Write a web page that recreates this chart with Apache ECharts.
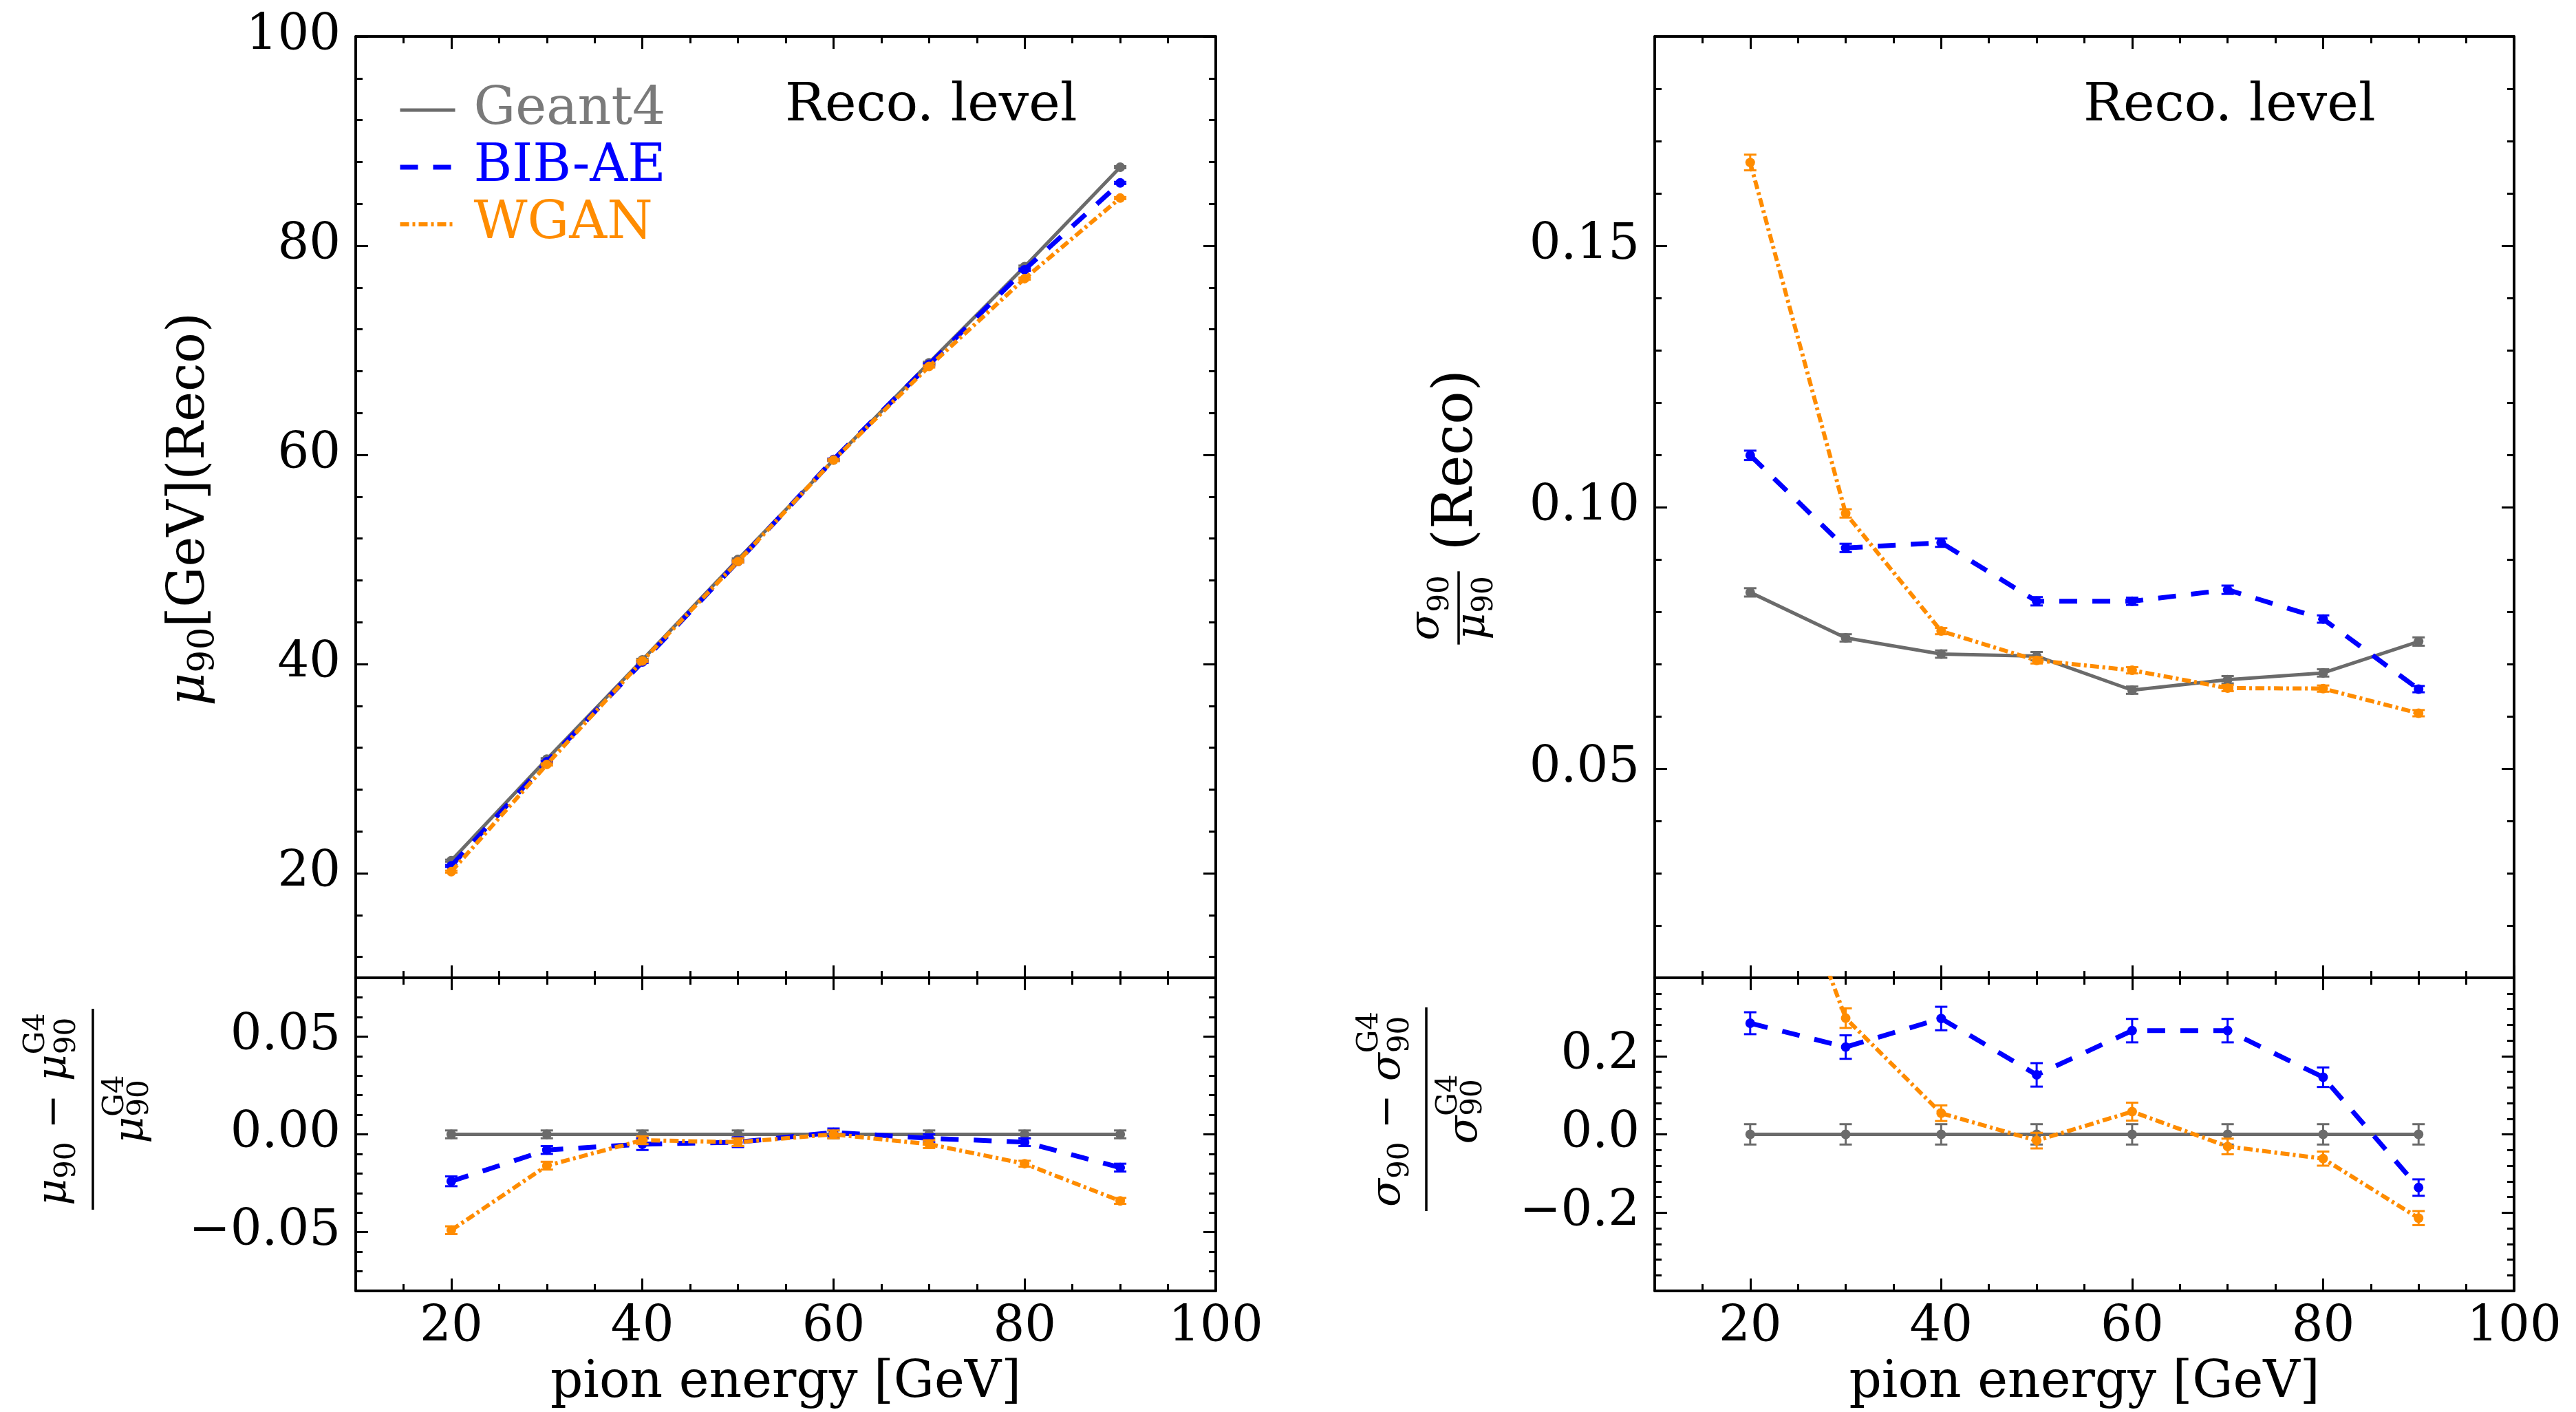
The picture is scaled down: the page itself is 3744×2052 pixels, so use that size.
<!DOCTYPE html>
<html><head><meta charset="utf-8">
<script src="https://cdn.jsdelivr.net/npm/echarts@6/dist/echarts.min.js"></script>
<style>html,body{margin:0;padding:0;background:#fff}#c{width:3744px;height:2052px}</style>
</head><body><div id="c"></div>
<script>
// ---------------- data ----------------
const energy = [20, 30, 40, 50, 60, 70, 80, 90];

// mu90 (Reco) [GeV]
const muG4   = [21.2, 30.9, 40.4, 50.0, 59.5, 68.8, 78.0, 87.5];
const muBIB  = [20.7, 30.65, 40.2, 49.8, 59.55, 68.65, 77.7, 86.0];
const muWGAN = [20.15, 30.4, 40.3, 49.8, 59.5, 68.45, 76.85, 84.55];
const muErrG4   = [0.1, 0.1, 0.1, 0.1, 0.1, 0.1, 0.1, 0.1];
const muErrBIB  = [0.1, 0.1, 0.1, 0.1, 0.1, 0.1, 0.1, 0.1];
const muErrWGAN = [0.1, 0.1, 0.1, 0.1, 0.1, 0.1, 0.1, 0.1];

// (mu90 - mu90_G4) / mu90_G4
const dMuG4   = [0, 0, 0, 0, 0, 0, 0, 0];
const dMuBIB  = [-0.024, -0.008, -0.005, -0.004, 0.001, -0.002, -0.004, -0.017];
const dMuWGAN = [-0.049, -0.016, -0.003, -0.004, 0.0, -0.005, -0.015, -0.034];
const dMuErrG4   = [0.002, 0.002, 0.002, 0.002, 0.002, 0.002, 0.002, 0.002];
const dMuErrBIB  = [0.0025, 0.002, 0.003, 0.0025, 0.002, 0.002, 0.002, 0.002];
const dMuErrWGAN = [0.002, 0.002, 0.002, 0.002, 0.002, 0.002, 0.0015, 0.0015];

// sigma90 / mu90 (Reco)
const resG4   = [0.0837, 0.0750, 0.0719, 0.0715, 0.0650, 0.0670, 0.0683, 0.0743];
const resBIB  = [0.1099, 0.0922, 0.0932, 0.0820, 0.0820, 0.0842, 0.0786, 0.0652];
const resWGAN = [0.1659, 0.0988, 0.0763, 0.0707, 0.0688, 0.0654, 0.0653, 0.0606];
const resErrG4   = [0.0008, 0.0007, 0.0007, 0.0008, 0.0007, 0.0007, 0.0007, 0.0008];
const resErrBIB  = [0.0009, 0.0008, 0.0008, 0.0008, 0.0007, 0.0008, 0.0007, 0.0006];
const resErrWGAN = [0.0015, 0.0008, 0.0006, 0.0006, 0.0006, 0.0006, 0.0006, 0.0006];

// (sigma90 - sigma90_G4) / sigma90_G4
const dResG4   = [0, 0, 0, 0, 0, 0, 0, 0];
const dResBIB  = [0.284, 0.223, 0.296, 0.152, 0.265, 0.265, 0.146, -0.136];
const dResWGAN = [0.95, 0.297, 0.054, -0.016, 0.058, -0.031, -0.062, -0.214];
const dResErrG4   = [0.026, 0.026, 0.026, 0.026, 0.026, 0.026, 0.026, 0.026];
const dResErrBIB  = [0.028, 0.03, 0.03, 0.03, 0.03, 0.03, 0.025, 0.021];
const dResErrWGAN = [0.03, 0.025, 0.02, 0.02, 0.023, 0.02, 0.018, 0.018];

// tick values
const xMajor = [20, 40, 60, 80, 100];
const xMinor = [15, 20, 25, 30, 35, 40, 45, 50, 55, 60, 65, 70, 75, 80, 85, 90, 95];
const muMajor = [20, 40, 60, 80, 100];
const muMinor = [12, 16, 20, 24, 28, 32, 36, 40, 44, 48, 52, 56, 60, 64, 68, 72, 76, 80, 84, 88, 92, 96];
const dMuMajor = [-0.05, 0, 0.05];
const dMuMinor = [-0.07, -0.06, -0.05, -0.04, -0.03, -0.02, -0.01, 0, 0.01, 0.02, 0.03, 0.04, 0.05, 0.06, 0.07];
const resMajor = [0.05, 0.10, 0.15];
const resMinor = [0.02, 0.03, 0.04, 0.05, 0.06, 0.07, 0.08, 0.09, 0.10, 0.11, 0.12, 0.13, 0.14, 0.15, 0.16, 0.17, 0.18];
const dResMajor = [-0.2, 0, 0.2];
const dResMinor = [-0.36, -0.32, -0.28, -0.24, -0.2, -0.16, -0.12, -0.08, -0.04, 0, 0.04, 0.08, 0.12, 0.16, 0.2, 0.24, 0.28, 0.32, 0.36];

const seriesNames = ['Geant4', 'BIB-AE', 'WGAN'];
const colors = ['#6b6b6b', '#0000ff', '#ff8c00'];

// ---------------- layout helpers ----------------
const FONT = 'DejaVu Serif';
const MAJ = 18, MIN = 10;
const grids = [], xAxes = [], yAxes = [], series = [];

function fmtNum(d) {
  return function (v) {
    const s = Math.abs(v).toFixed(d);
    return (v < -1e-9 ? '\u2212' : '') + s;
  };
}

function mkAxis(gi, pos, range, ticks, len, label, isX, name) {
  const a = {
    type: 'value', gridIndex: gi, position: pos, min: range[0], max: range[1],
    axisLine: { show: true, onZero: false, lineStyle: { color: '#000', width: 3.5 } },
    axisTick: { show: true, inside: true, length: len, customValues: ticks, lineStyle: { color: '#000', width: 3 } },
    axisLabel: label ? { show: true, customValues: ticks, formatter: label, fontFamily: FONT, fontSize: 72, color: '#000', margin: isX ? 18 : 22 } : { show: false },
    splitLine: { show: false }, minorTick: { show: false }, minorSplitLine: { show: false }
  };
  if (name) {
    a.name = name; a.nameLocation = 'middle'; a.nameGap = 98;
    a.nameTextStyle = { fontFamily: FONT, fontSize: 74, color: '#000' };
  }
  return a;
}

function panel(rect, xr, yr, xMaj, xMin, yMaj, yMin, xFmt, yFmt, xName) {
  const gA = grids.length; grids.push(Object.assign({}, rect));
  const gB = grids.length; grids.push(Object.assign({}, rect));
  const xi = xAxes.length;
  xAxes.push(mkAxis(gA, 'bottom', xr, xMaj, MAJ, xFmt, true, xName));
  xAxes.push(mkAxis(gA, 'top', xr, xMaj, MAJ, null, true));
  xAxes.push(mkAxis(gB, 'bottom', xr, xMin, MIN, null, true));
  xAxes.push(mkAxis(gB, 'top', xr, xMin, MIN, null, true));
  const yi = yAxes.length;
  yAxes.push(mkAxis(gA, 'left', yr, yMaj, MAJ, yFmt, false));
  yAxes.push(mkAxis(gA, 'right', yr, yMaj, MAJ, null, false));
  yAxes.push(mkAxis(gB, 'left', yr, yMin, MIN, null, false));
  yAxes.push(mkAxis(gB, 'right', yr, yMin, MIN, null, false));
  return { xi, yi };
}

function errRender(color, r) {
  return function (params, api) {
    const x = api.value(0), y = api.value(1), e = api.value(2);
    const c = api.coord([x, y]), hi = api.coord([x, y + e]), lo = api.coord([x, y - e]);
    const cap = 9, st = { stroke: color, lineWidth: 3 };
    return { type: 'group', children: [
      { type: 'line', shape: { x1: c[0], y1: hi[1], x2: c[0], y2: lo[1] }, style: st },
      { type: 'line', shape: { x1: c[0] - cap, y1: hi[1], x2: c[0] + cap, y2: hi[1] }, style: st },
      { type: 'line', shape: { x1: c[0] - cap, y1: lo[1], x2: c[0] + cap, y2: lo[1] }, style: st },
      { type: 'circle', shape: { cx: c[0], cy: c[1], r: r }, style: { fill: color } }
    ] };
  };
}

const lineStyles = [
  { width: 5, type: 'solid' },
  { width: 7, type: [26, 22] },
  { width: 6, type: [13, 5, 4, 5] }
];

function addSet(ax, valsList, errList) {
  for (let k = 0; k < 3; k++) {
    const vals = valsList[k], errs = errList[k], color = colors[k];
    series.push({
      type: 'line', name: seriesNames[k], xAxisIndex: ax.xi, yAxisIndex: ax.yi,
      data: energy.map((e, i) => [e, vals[i]]), symbol: 'none', clip: true,
      lineStyle: Object.assign({ color: color }, lineStyles[k]), itemStyle: { color: color },
      z: 3 + k * 2, animation: false
    });
    series.push({
      type: 'custom', name: seriesNames[k] + ' err', xAxisIndex: ax.xi, yAxisIndex: ax.yi,
      data: energy.map((e, i) => [e, vals[i], errs[i]]), encode: { x: 0, y: 1 },
      renderItem: errRender(color, 7), clip: true, z: 4 + k * 2, animation: false
    });
  }
}

const L = { left: 517, width: 1250 }, R = { left: 2405, width: 1249 };
const TOP = 53, MID = 1421, BOT = 1876;
const pMu = panel({ left: L.left, width: L.width, top: TOP, height: MID - TOP }, [10, 100], [10, 100], xMajor, xMinor, muMajor, muMinor, null, v => String(v));
const pDMu = panel({ left: L.left, width: L.width, top: MID, height: BOT - MID }, [10, 100], [-0.08, 0.08], xMajor, xMinor, dMuMajor, dMuMinor, v => String(v), fmtNum(2), 'pion energy [GeV]');
const pRes = panel({ left: R.left, width: R.width, top: TOP, height: MID - TOP }, [10, 100], [0.01, 0.19], xMajor, xMinor, resMajor, resMinor, null, fmtNum(2));
const pDRes = panel({ left: R.left, width: R.width, top: MID, height: BOT - MID }, [10, 100], [-0.4, 0.4], xMajor, xMinor, dResMajor, dResMinor, v => String(v), fmtNum(1), 'pion energy [GeV]');

addSet(pMu, [muG4, muBIB, muWGAN], [muErrG4, muErrBIB, muErrWGAN]);
addSet(pDMu, [dMuG4, dMuBIB, dMuWGAN], [dMuErrG4, dMuErrBIB, dMuErrWGAN]);
addSet(pRes, [resG4, resBIB, resWGAN], [resErrG4, resErrBIB, resErrWGAN]);
addSet(pDRes, [dResG4, dResBIB, dResWGAN], [dResErrG4, dResErrBIB, dResErrWGAN]);

// ---------------- math-like axis titles ----------------
const mctx = document.createElement('canvas').getContext('2d');
function tw(t, s, it) { mctx.font = (it ? 'italic ' : '') + s + 'px "' + FONT + '"'; return mctx.measureText(t).width; }
function txt(t, x, base, s, it) {
  return { type: 'text', x: x, y: base - 0.32 * s,
    style: { text: t, fontFamily: FONT, fontSize: s, fontStyle: it ? 'italic' : 'normal', fill: '#000', align: 'left', verticalAlign: 'middle' } };
}
function buildRuns(runs) {
  let x = 0; const els = [];
  for (const r of runs) {
    if (r.stack) {
      els.push(txt(r.sup, x, r.supDy, r.s, false));
      els.push(txt(r.sub, x, r.subDy, r.s, false));
      x += Math.max(tw(r.sup, r.s, false), tw(r.sub, r.s, false));
    } else {
      els.push(txt(r.t, x, r.dy || 0, r.s, r.it));
      x += tw(r.t, r.s, r.it);
    }
  }
  return { els: els, w: x };
}
function shift(els, dx, dy) {
  els.forEach(e => {
    if (e.type === 'line') { e.shape.x1 += dx; e.shape.x2 += dx; e.shape.y1 += dy; e.shape.y2 += dy; }
    else { e.x += dx; e.y += dy; }
  });
  return els;
}
function buildFrac(num, den, nb, db, s) {
  const N = buildRuns(num), D = buildRuns(den);
  const W = Math.max(N.w, D.w) + 0.2 * s;
  shift(N.els, (W - N.w) / 2, nb); shift(D.els, (W - D.w) / 2, db);
  const bar = { type: 'line', shape: { x1: 0, y1: 0, x2: W, y2: 0 }, style: { stroke: '#000', lineWidth: 3.5 } };
  return { els: N.els.concat(D.els, [bar]), w: W };
}
function vtitle(cx, cy, parts) {
  let x = 0; const all = [];
  for (const p of parts) {
    if (typeof p === 'number') { x += p; continue; }
    shift(p.els, x, 0); all.push.apply(all, p.els); x += p.w;
  }
  shift(all, -x / 2, 0);
  return { type: 'group', x: cx, y: cy, rotation: Math.PI / 2, children: all };
}

const FS = 60, SS = 42;
const titleMu = vtitle(280, 740, [buildRuns([
  { t: '\u03bc', s: 74, it: true, dy: 20 },
  { t: '90', s: 52, dy: 33 },
  { t: '[GeV](Reco)', s: 74, dy: 20 }
])]);
function relFrac(sym) {
  return buildFrac(
    [{ t: sym, s: FS, it: true }, { t: '90', s: SS, dy: 12 }, { t: ' \u2212 ', s: FS }, { t: sym, s: FS, it: true },
     { stack: true, sup: 'G4', sub: '90', s: SS, supDy: -33, subDy: 12 }],
    [{ t: sym, s: FS, it: true }, { stack: true, sup: 'G4', sub: '90', s: SS, supDy: -30, subDy: 6 }],
    -35, 77, FS);
}
const titleDMu = vtitle(135, 1612, [relFrac('\u03bc')]);
const titleDRes = vtitle(2073, 1612, [relFrac('\u03c3')]);
const titleRes = vtitle(2120, 737, [
  buildFrac([{ t: '\u03c3', s: FS, it: true }, { t: '90', s: SS, dy: 14 }],
            [{ t: '\u03bc', s: FS, it: true }, { t: '90', s: SS, dy: 10 }], -26, 42, FS),
  30,
  buildRuns([{ t: '(Reco)', s: 80, dy: 24 }])
]);

const graphics = [
  titleMu, titleDMu, titleRes, titleDRes,
  { type: 'text', x: 1141, y: 155, style: { text: 'Reco. level', fontFamily: FONT, fontSize: 77, fill: '#000', align: 'left', verticalAlign: 'middle' } },
  { type: 'text', x: 3028, y: 155, style: { text: 'Reco. level', fontFamily: FONT, fontSize: 77, fill: '#000', align: 'left', verticalAlign: 'middle' } }
];

const chart = echarts.init(document.getElementById('c'), null, { renderer: 'canvas' });
chart.setOption({
  animation: false,
  backgroundColor: '#fff',
  grid: grids,
  xAxis: xAxes,
  yAxis: yAxes,
  legend: {
    orient: 'vertical', left: 573, top: 117, itemWidth: 80, itemHeight: 20, itemGap: 7,
    selectedMode: false,
    itemStyle: { opacity: 0 },
    textStyle: { fontFamily: FONT, fontSize: 76, lineHeight: 72, padding: [0, 0, 0, 22] },
    data: [
      { name: 'Geant4', textStyle: { color: '#7a7a7a' }, lineStyle: { width: 5, type: 'solid', color: colors[0] } },
      { name: 'BIB-AE', textStyle: { color: '#0000ff' }, lineStyle: { width: 7, type: [26, 22], color: colors[1] } },
      { name: 'WGAN', textStyle: { color: '#ff8c00' }, lineStyle: { width: 6, type: [13, 5, 4, 5], color: colors[2] } }
    ]
  },
  graphic: graphics,
  series: series
});
</script>
</body></html>
